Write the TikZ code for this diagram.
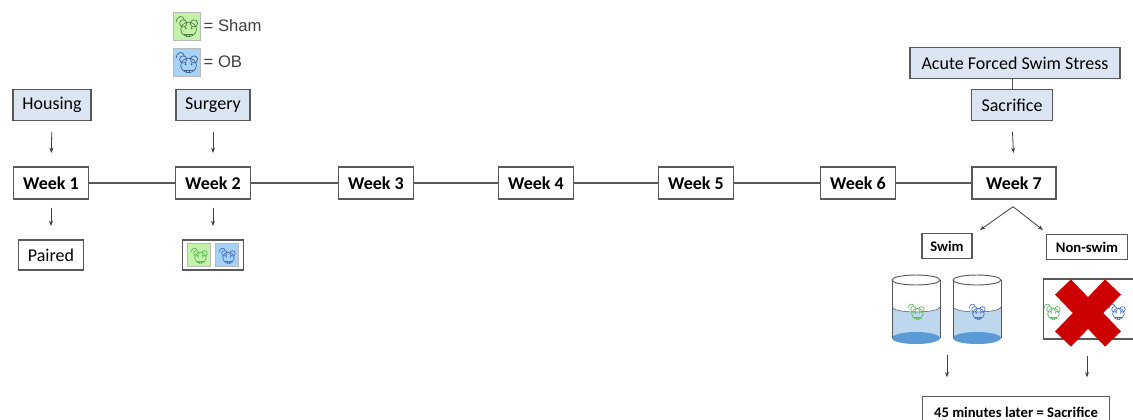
\documentclass[tikz,border=0pt]{standalone}
\usepackage{fontspec}
\setmainfont{Carlito}
\newfontfamily\legendfont{Liberation Sans}
\usepackage{xcolor}
\definecolor{boxline}{HTML}{595959}
\definecolor{eventfill}{HTML}{DCE6F2}
\definecolor{shamfill}{HTML}{C4F2A8}
\definecolor{obfill}{HTML}{A6D2F7}
\definecolor{shamline}{HTML}{4E7A45}
\definecolor{obline}{HTML}{3F5F86}
\definecolor{swimgreen}{HTML}{5CB85C}
\definecolor{swimblue}{HTML}{4A6FC0}
\definecolor{water}{HTML}{BDD7EE}
\definecolor{waterdeep}{HTML}{5B9BD5}
\definecolor{crossred}{HTML}{CC0000}
\definecolor{legendtext}{HTML}{404040}
\usetikzlibrary{arrows.meta, positioning, calc}

% small mouse head, drawn in pixel units around its centre
\tikzset{
    pics/mouse/.style={code={
        \draw[#1, line width=0.5pt] (-3,-6) .. controls (-4,-10) and (-9,-10) .. (-10,-4);
        \draw[#1, line width=0.5pt] (-4,-3) circle[radius=3];
        \draw[#1, line width=0.5pt] (5,-3) circle[radius=3];
        \draw[#1, line width=0.5pt] (0.5,2) ellipse[x radius=6.5, y radius=6];
        \fill[#1] (-2,1) circle[radius=0.9];
        \fill[#1] (3,1) circle[radius=0.9];
        \draw[#1, line width=0.5pt] (-3,6) -- (4,6);
        \draw[#1, line width=0.5pt] (-1,6) -- (-1,8.5) (1.5,6) -- (1.5,8.5);
    }},
    % glass of water, origin at the centre of the rim
    pics/beaker/.style={code={
        \fill[water] (-24,27) -- (-24,58) arc[start angle=180, end angle=0, x radius=24, y radius=6]
            -- (24,27) arc[start angle=0, end angle=180, x radius=24, y radius=5] -- cycle;
        \fill[waterdeep] (0,58) ellipse[x radius=24, y radius=6];
        \draw[boxline, line width=0.4pt] (24,27) arc[start angle=0, end angle=180, x radius=24, y radius=5];
        \draw[boxline, line width=0.7pt] (0,0) ellipse[x radius=24, y radius=5];
        \draw[boxline, line width=0.7pt] (-24,0) -- (-24,58) (24,0) -- (24,58);
        \pic[scale=0.9] at (1,32) {mouse=#1};
    }}
}

\begin{document}
\begin{tikzpicture}[x=0.75pt, y=-0.75pt,
    week/.style={rectangle, draw=boxline, fill=white, line width=1pt,
        minimum width=56pt, minimum height=24pt, inner sep=2pt,
        font=\fontsize{13.5}{15}\selectfont\bfseries},
    event/.style={rectangle, draw=boxline, fill=eventfill, line width=1pt,
        minimum height=23pt, inner sep=2pt, font=\fontsize{13.5}{15}\selectfont},
    outcome/.style={rectangle, draw=boxline, fill=white, line width=1pt,
        minimum height=22.5pt, inner sep=2pt, font=\fontsize{13.5}{15}\selectfont},
    grouplbl/.style={rectangle, draw=boxline, fill=white, line width=1pt,
        minimum height=19pt, inner sep=2pt, font=\fontsize{11}{13}\selectfont\bfseries},
    iconbox/.style={rectangle, draw=gray!55, line width=0.6pt,
        minimum width=20pt, minimum height=21pt, inner sep=0pt},
    arr/.style={-{Stealth[length=4pt, width=3pt]}, line width=0.6pt, black!75},
    gaparr/.style={arr, shorten <=8pt, shorten >=10pt},
    link/.style={line width=1pt, boxline}
]
\clip (0,0) rectangle (1133,419);

% Legend
\node[iconbox, fill=shamfill] (shamicon) at (187,26) {};
\pic[scale=1.2] at ($(shamicon)+(1,1)$) {mouse=shamline};
\node[right=1pt of shamicon, inner sep=1pt, text=legendtext,
    font=\legendfont\fontsize{12.5}{14}\selectfont] (shamlbl) {= Sham};
\node[iconbox, fill=obfill] (obicon) at (187,62) {};
\pic[scale=1.2] at ($(obicon)+(1,1)$) {mouse=obline};
\node[right=1pt of obicon, inner sep=1pt, text=legendtext,
    font=\legendfont\fontsize{12.5}{14}\selectfont] (oblbl) {= OB};

% Events above the timeline
\node[event, minimum width=58.5pt] (housing) at (52,105) {Housing};
\node[event, minimum width=55.5pt] (surgery) at (213,105) {Surgery};
\node[event, minimum width=157.5pt] (acute) at (1015,63) {Acute Forced Swim Stress};
\node[event, minimum width=61pt] (sacrifice) at (1012,105) {Sacrifice};

% Timeline
\node[week] (week1) at (51,183) {Week 1};
\node[week] (week2) at (213,183) {Week 2};
\node[week] (week3) at (376,183) {Week 3};
\node[week] (week4) at (536,183) {Week 4};
\node[week] (week5) at (696,183) {Week 5};
\node[week] (week6) at (858,183) {Week 6};
\node[week, minimum width=63pt] (week7) at (1014,183) {Week 7};
\foreach \a/\b in {1/2, 2/3, 3/4, 4/5, 5/6, 6/7}
    \draw[link] (week\a.east) -- (week\b.west);

% Results below weeks 1 and 2
\node[outcome, minimum width=49pt] (paired) at (51,255) {Paired};
\node[outcome, minimum width=46pt] (groups) at (213,255) {};
\node[iconbox, fill=shamfill, minimum width=17pt, minimum height=17pt] (grpsham) at (199,255) {};
\pic[scale=0.9] at ($(grpsham)+(1,1)$) {mouse=swimgreen};
\node[iconbox, fill=obfill, minimum width=17pt, minimum height=17pt] (grpob) at (227,255) {};
\pic[scale=0.9] at ($(grpob)+(1,1)$) {mouse=swimblue};

% Arrows in and out of the timeline
\draw[gaparr] (housing.south) -- (week1.north);
\draw[gaparr] (surgery.south) -- (week2.north);
\draw[gaparr] (sacrifice.south) -- (week7.north);
\draw[gaparr, shorten <=6pt] (week1.south) -- (paired.north);
\draw[gaparr, shorten <=6pt] (week2.south) -- (groups.north);
\draw[boxline, line width=0.6pt] (sacrifice.north) -- (sacrifice.north |- acute.south);

% Week 7 split
\coordinate (split) at ($(week7.south)+(-1,7)$);
\node[grouplbl, minimum width=37.5pt] (swim) at (947,246) {Swim};
\node[grouplbl, minimum width=61pt] (nonswim) at (1087,247) {Non-swim};
\coordinate (swimin) at (980,230);
\coordinate (nonin) at (1043,230);
\draw[arr] (split) -- (swimin);
\draw[arr] (split) -- (nonin);

% Swim glasses
\pic at (916,280) {beaker=swimgreen};
\pic at (977,280) {beaker=swimblue};

% Non-swim cage, crossed out
\node[rectangle, draw=boxline, line width=1pt, fill=white,
    minimum width=80pt, minimum height=45pt] (cage) at (1097,309) {};
\pic[scale=0.9] at (1053,312) {mouse=swimgreen};
\pic[scale=0.9] at (1118,312) {mouse=swimblue};
\draw[crossred, line width=16.5pt] (1063,287) -- (1113,339);
\draw[crossred, line width=16.5pt] (1113,287) -- (1063,339);

% Final step
\node[outcome, minimum width=140pt, font=\fontsize{11}{13}\selectfont\bfseries,
    minimum height=23pt] (final) at (1016,412) {45 minutes later = Sacrifice};
\coordinate (glasses) at (947,348);
\draw[arr, shorten <=5pt, shorten >=14pt] (glasses) -- (glasses |- final.north);
\draw[arr, shorten <=12pt, shorten >=14pt] (cage.south -| nonswim) -- (nonswim |- final.north);
\end{tikzpicture}
\end{document}
